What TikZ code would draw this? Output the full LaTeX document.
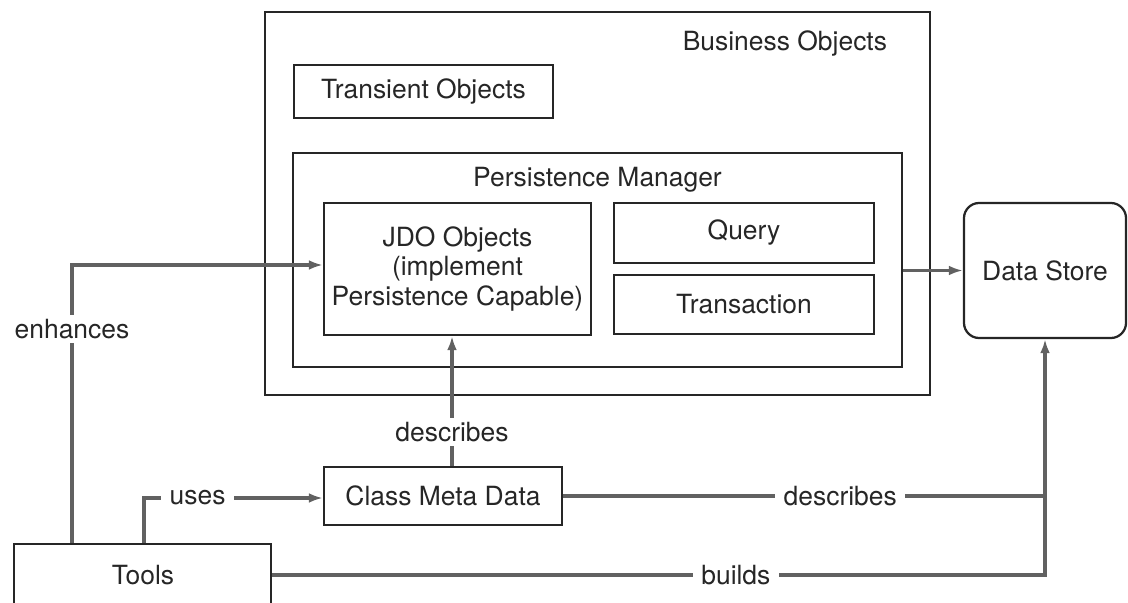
\documentclass[tikz,border=0pt]{standalone}
\usepackage{fontspec}
\setmainfont{TeX Gyre Heros}
\usepackage{tikz}
\usetikzlibrary{positioning,arrows.meta}
\tikzset{%
  box/.style={draw=black!85,line width=1.6pt,inner sep=0pt,align=center},
  store/.style={box,rounded corners=0.38cm},
  link/.style={draw=black!62,line width=2.3pt},
  arr/.style={link,-{Latex[length=10pt,width=7pt,fill=black!85]}},
  lbl/.style={fill=white,inner xsep=6pt,inner ysep=3pt,text=black!85}
}

\begin{document}
\begin{tikzpicture}[x=0.025cm,y=-0.025cm,font=\fontsize{18.8}{21}\selectfont,text=black!85]
  \useasboundingbox (0,0) rectangle (1128,603);

  % business objects and what sits in it
  \node[box,minimum width=16.625cm,minimum height=9.575cm] (bo) at (597.5,203.5) {};
  \node[below left=0.38cm and 0.98cm of bo.north east] (boname) {Business Objects};
  \node[box,minimum width=6.475cm,minimum height=1.325cm] (trans) at (423.5,91.5) {Transient Objects};

  \node[box,minimum width=15.225cm,minimum height=5.35cm] (pm) at (597.5,260) {};
  \node[below=0.25cm of pm.north] (pmname) {Persistence Manager};
  \node[box,minimum width=6.675cm,minimum height=3.3cm] (jdo) at (457.5,269)
    {JDO Objects\\(implement\\Persistence Capable)};
  \node[box,minimum width=6.5cm,minimum height=1.5cm] (query) at (744,233) {Query};
  \node[box,minimum width=6.5cm,minimum height=1.475cm] (txn) at (744,304.5) {Transaction};

  \node[store,minimum width=4.05cm,minimum height=3.375cm] (ds) at (1045,270.5) {Data Store};
  \node[box,minimum width=5.95cm,minimum height=1.45cm] (cmd) at (443,496) {Class Meta Data};
  \node[box,minimum width=6.425cm,minimum height=1.65cm] (tools) at (142.5,577) {};
  \node (toolsname) at (143,575) {Tools};

  \coordinate (enh) at (72,265);
  \coordinate (use) at (144,498);
  \coordinate (dsc) at (452,433);

  \draw[arr] (tools.north -| enh) -- node[lbl,pos=.77] (enhlbl) {enhances} (enh) -- (enh -| jdo.west);
  \draw[arr] (tools.north -| use) -- (use) -- node[lbl,pos=.3] (uselbl) {uses} (use -| cmd.west);
  \draw[arr] (cmd.north -| dsc) -- node[lbl,pos=.26] (dsclbl) {describes} (jdo.south -| dsc);
  \draw[link] (cmd.east) -- node[lbl,pos=.575] (dsclbl2) {describes} (cmd.east -| ds.south);
  \draw[arr] (tools.east |- 0,575) -- node[lbl,pos=.6] (bldlbl) {builds} (ds.south |- 0,575) -- (ds.south);
  \draw[arr] (pm.east |- ds.west) -- (ds.west);
\end{tikzpicture}
\end{document}
